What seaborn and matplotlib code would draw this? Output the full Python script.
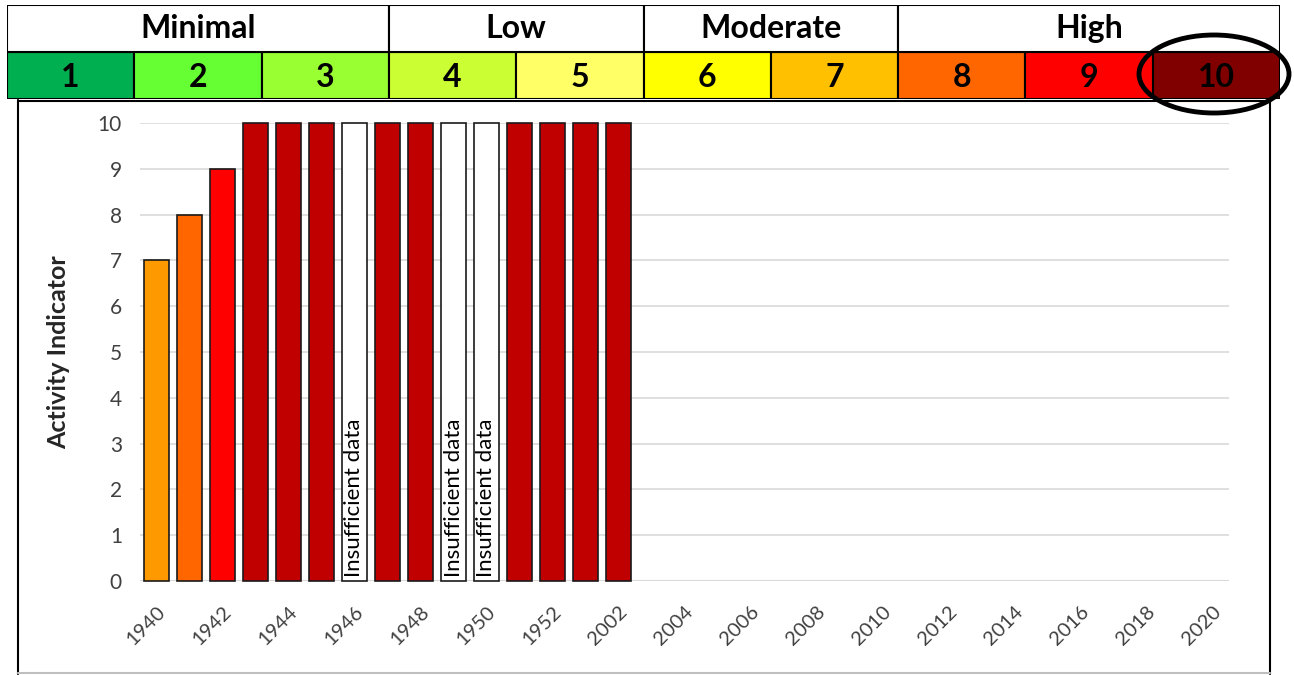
import matplotlib
matplotlib.use("Agg")
from matplotlib import pyplot as plt
from matplotlib.patches import Rectangle, Ellipse
from matplotlib.lines import Line2D
import seaborn as sns
import pandas as pd
import numpy as np

# 데이터
years = [str(y) for y in range(1940, 1953)] + ['2001', '2002'] + [str(y) for y in range(2003, 2021)]
values = [7, 8, 9, 10, 10, 10, 10, 10, 10, 10, 10, 10, 10, 10, 10] + [np.nan] * 18
bar_colors = ['#FF9900', '#FF6600', '#FF0000', '#C00000', '#C00000', '#C00000', '#FFFFFF',
              '#C00000', '#C00000', '#FFFFFF', '#FFFFFF', '#C00000', '#C00000', '#C00000', '#C00000'] + ['#FFFFFF'] * 18
insufficient = ['1946', '1949', '1950']

levels = ['1', '2', '3', '4', '5', '6', '7', '8', '9', '10']
level_colors = ['#00B050', '#66FF33', '#99FF33', '#CCFF33', '#FFFF66',
                '#FFFF00', '#FFC000', '#FF6600', '#FF0000', '#800000']
groups = ['Minimal', 'Low', 'Moderate', 'High']
group_span = [3, 2, 2, 3]

df = pd.DataFrame({'year': years, 'value': values})

sns.set_style('white')
plt.rcParams['font.family'] = ['Lato', 'DejaVu Sans']

W, H = 1294, 675
fig = plt.figure(figsize=(W / 100, H / 100), dpi=100)

def px(x0, y0, x1, y1):
    return [x0 / W, 1 - y1 / H, (x1 - x0) / W, (y1 - y0) / H]

# 상단 범례 표
hdr = fig.add_axes(px(7, 5, 1280, 99))
hdr.set_xlim(0, 10)
hdr.set_ylim(0, 2)
hdr.axis('off')
for i, (lv, c) in enumerate(zip(levels, level_colors)):
    hdr.add_patch(Rectangle((i, 0), 1, 1, facecolor=c, edgecolor='black', lw=1.5))
    hdr.text(i + 0.5, 0.46, lv, ha='center', va='center', fontsize=23, fontweight='bold', color='black')
start = 0
for g, n in zip(groups, group_span):
    hdr.add_patch(Rectangle((start, 1), n, 1, facecolor='white', edgecolor='black', lw=1.5))
    hdr.text(start + n / 2, 1.5, g, ha='center', va='center', fontsize=23, fontweight='bold', color='black')
    start += n

# 차트 외곽선
fig.add_artist(Line2D([18 / W, 18 / W], [1 - 100 / H, 1 - 674 / H], color='black', lw=1.5))
fig.add_artist(Line2D([1270 / W, 1270 / W], [1 - 100 / H, 1 - 674 / H], color='black', lw=1.5))
fig.add_artist(Line2D([18 / W, 1270 / W], [1 - 101 / H, 1 - 101 / H], color='black', lw=1.5))
fig.add_artist(Line2D([18 / W, 1270 / W], [1 - 673 / H, 1 - 673 / H], color='#BFBFBF', lw=1.5))

# 막대 차트
ax = fig.add_axes(px(140, 123, 1229, 581))
sns.barplot(data=df, x='year', y='value', hue='year', order=years,
            palette=dict(zip(years, bar_colors)), legend=False, saturation=1,
            edgecolor='#1a1a1a', linewidth=1.2, width=0.76, ax=ax)
for p in ax.patches:
    p.set_clip_on(False)
    p.set_zorder(3)

for y in insufficient:
    i = years.index(y)
    ax.text(i, 0.08, 'Insufficient data', rotation=90, ha='center', va='bottom',
            fontsize=16, color='black', zorder=4)

ax.set_ylim(0, 10)
ax.set_xlim(-0.5, len(years) - 0.5)
ax.set_yticks(range(0, 11))
ax.yaxis.grid(True, color='#D9D9D9', lw=1.2)
ax.set_axisbelow(True)
for s in ax.spines.values():
    s.set_visible(False)
ax.axhline(0, color='#D9D9D9', lw=1.5, zorder=1)
ax.set_xticks(range(0, len(years), 2))
ax.set_xticklabels(years[::2], rotation=45, ha='right', rotation_mode='anchor')
ax.tick_params(axis='x', length=0, labelsize=14.5, labelcolor='#404040', pad=16)
ax.tick_params(axis='y', length=0, labelsize=15, labelcolor='#404040', pad=13)
ax.set_xlabel('')
ax.set_ylabel('Activity Indicator', fontsize=18, fontweight='bold', labelpad=20)

# 10 강조 원
fig.add_artist(Ellipse((1214 / W, 1 - 74 / H), 150 / W, 78 / H, facecolor='none',
                       edgecolor='black', lw=3.5, zorder=10))

fig.savefig('out.png', dpi=100)
